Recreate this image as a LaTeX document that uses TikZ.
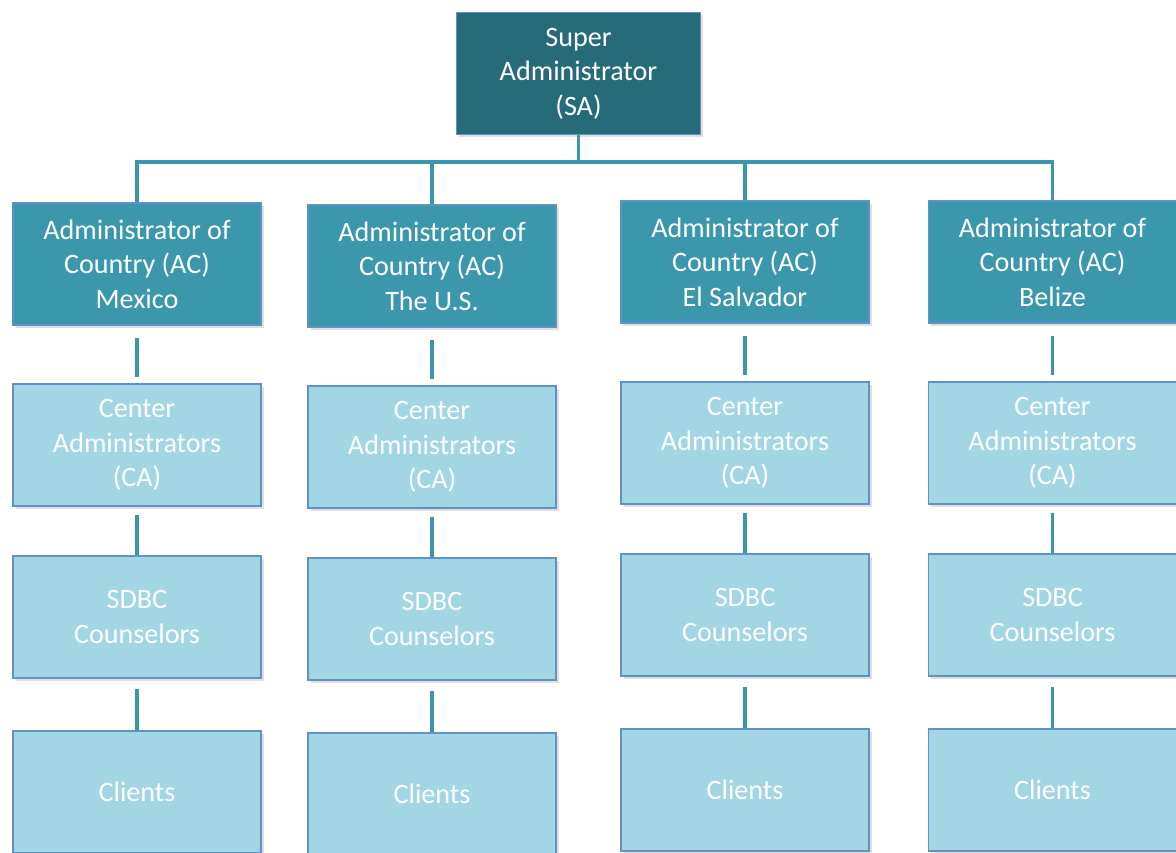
\documentclass[tikz,border=0pt]{standalone}
\usepackage{fontspec}
\setmainfont{Carlito}
\usetikzlibrary{shadows}
\definecolor{DeepTeal}{RGB}{39,107,122}
\definecolor{MidTeal}{RGB}{59,151,172}
\definecolor{PaleTeal}{RGB}{163,214,228}
\definecolor{EdgeBlue}{RGB}{96,146,200}
\definecolor{LinkTeal}{RGB}{58,151,171}
\newcommand{\branch}[4]{% nombre, x, desfase y, pais
    \node[acbox] (#1ac) at (#2,{264+(#3)}) {Administrator of\\Country (AC)\\#4};
    \node[lightbox] (#1ca) at (#2,{445+(#3)}) {Center\\Administrators\\(CA)};
    \node[lightbox] (#1sd) at (#2,{617+(#3)}) {SDBC\\Counselors};
    \node[lightbox] (#1cl) at (#2,{792+(#3)}) {Clients};
    \draw[link, shorten <=0.3cm, shorten >=0.15cm] (#1ac) -- (#1ca);
    \draw[link, shorten <=0.2cm] (#1ca) -- (#1sd);
    \draw[link, shorten <=0.25cm] (#1sd) -- (#1cl);
    \draw[link] (#1ac.north) |- (bus);
}

\begin{document}
\begin{tikzpicture}[x=0.025cm, y=-0.025cm,
    box/.style={draw=EdgeBlue, line width=1.2pt, text=white, align=center,
                minimum width=6.2cm, minimum height=3.05cm, inner sep=0pt,
                font=\fontsize{20}{24.5}\selectfont,
                drop shadow={opacity=0.25, shadow xshift=2pt, shadow yshift=-2pt}},
    sabox/.style={box, fill=DeepTeal, minimum width=6.1cm},
    acbox/.style={box, fill=MidTeal},
    lightbox/.style={box, fill=PaleTeal},
    link/.style={draw=LinkTeal, line width=2.6pt}]

\useasboundingbox[fill=white] (0,0) rectangle (1176,853);

\node[sabox] (sa) at (578.5,73.5) {Super\\Administrator\\(SA)};
\coordinate (bus) at (578.5,162);
\draw[link] (sa) -- (bus);

\branch{mex}{137}{0}{Mexico}
\branch{usa}{432}{2}{The U.S.}
\branch{slv}{745}{-2}{El Salvador}
\branch{blz}{1052.5}{-2}{Belize}

\end{tikzpicture}
\end{document}
